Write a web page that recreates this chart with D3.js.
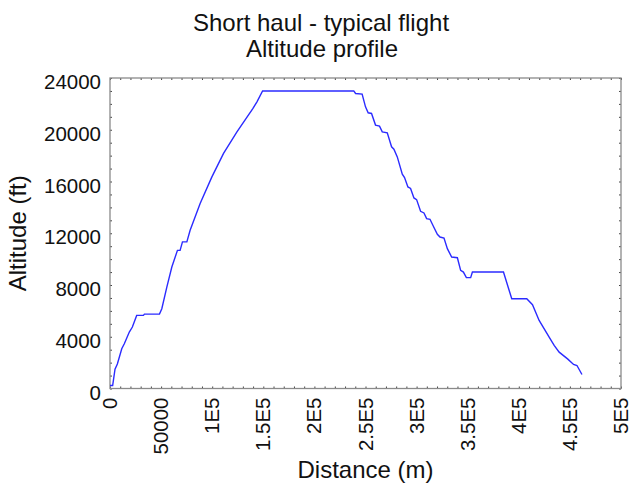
<body style="margin:0">
<svg></svg>
<script src="https://d3js.org/d3.v7.min.js"></script>
<script>

// distance along route (m) and altitude (ft)
var distance = [0, 2600, 4900, 7200, 11500, 14000, 18900, 21900, 26100, 32700, 33700, 48400, 50700,
  55600, 60500, 66000, 68600, 70900, 75200, 78400, 88200, 99700, 111100, 124200, 139900, 143800,
  149300, 238500, 240300, 246700, 250000, 252600, 255900, 259800, 263700, 266400, 271300, 275500,
  277800, 281100, 286000, 288200, 291500, 294100, 297400, 300000, 303900, 307200, 309800, 313100,
  316400, 320300, 322900, 326800, 330100, 334300, 339900, 343100, 345800, 348700, 352900, 354600,
  385000, 393100, 407800, 413400, 419900, 429700, 434600, 439500, 447700, 453600, 456900, 461800];
var altitude = [230, 230, 1500, 1900, 3070, 3460, 4360, 4750, 5650, 5650, 5750, 5750, 6170,
  7840, 9390, 10680, 10680, 11330, 11330, 12230, 14300, 16360, 18170, 19840, 21650, 22160,
  23000, 23000, 22800, 22760, 21770, 21310, 21260, 20360, 20280, 19840, 19760, 18680,
  18500, 17900, 16560, 16300, 15580, 15460, 14730, 14600, 13700, 13570, 13130, 13080,
  12540, 11920, 11710, 11630, 10810, 10160, 10110, 9130, 9000, 8570, 8570, 9000,
  9000, 6940, 6940, 6480, 5260, 3970, 3330, 2810, 2290, 1860, 1780, 1080];

var xTicks = [0, 50000, 100000, 150000, 200000, 250000, 300000, 350000, 400000, 450000, 500000];
var xTickLabels = ["0", "50000", "1E5", "1.5E5", "2E5", "2.5E5", "3E5", "3.5E5", "4E5", "4.5E5", "5E5"];
var yTicks = [0, 4000, 8000, 12000, 16000, 20000, 24000];

var width = 629, height = 490;
var plotLeft = 110, plotRight = 621, plotTop = 78, plotBottom = 388.5;
var font = "'Liberation Sans', Arial, sans-serif";

const svg = d3.select("svg")
    .attr("width", width)
    .attr("height", height)
    .style("font-family", font);

svg.append("rect").attr("width", width).attr("height", height).attr("fill", "white");

var x = d3.scaleLinear().domain([0, 500000]).range([plotLeft, plotRight]);
var y = d3.scaleLinear().domain([0, 24000]).range([plotBottom, plotTop]);

// minor ticks, inward, on all four sides
var xMinor = d3.range(0, 500001, 10000);
var yMinor = d3.range(0, 24001, 1000);
var axisColor = "#8a8a8a";

function ticksOnly(g) {
  g.select(".domain").remove();
  g.selectAll("line").attr("stroke", "#444");
}

svg.append("g").attr("transform", `translate(0,${plotBottom})`)
    .call(d3.axisTop(x).tickValues(xMinor).tickSize(2).tickFormat(""))
    .call(ticksOnly);
svg.append("g").attr("transform", `translate(0,${plotTop})`)
    .call(d3.axisBottom(x).tickValues(xMinor).tickSize(2).tickFormat(""))
    .call(ticksOnly);
svg.append("g").attr("transform", `translate(${plotLeft},0)`)
    .call(d3.axisRight(y).tickValues(yMinor).tickSize(2).tickFormat(""))
    .call(ticksOnly);
svg.append("g").attr("transform", `translate(${plotRight},0)`)
    .call(d3.axisLeft(y).tickValues(yMinor).tickSize(2).tickFormat(""))
    .call(ticksOnly);

// frame
svg.append("rect")
    .attr("x", plotLeft).attr("y", plotTop)
    .attr("width", plotRight - plotLeft).attr("height", plotBottom - plotTop)
    .attr("fill", "none").attr("stroke", axisColor).attr("stroke-width", 1.3);

// tick labels
svg.append("g").selectAll("text")
    .data(xTicks)
    .join("text")
    .attr("transform", (d) => `translate(${x(d) + 7},${plotBottom + 9}) rotate(-90)`)
    .attr("text-anchor", "end")
    .attr("font-size", 20.5)
    .attr("fill", "#111")
    .text((d, i) => xTickLabels[i]);

svg.append("g").selectAll("text")
    .data(yTicks)
    .join("text")
    .attr("x", plotLeft - 9)
    .attr("y", (d) => y(d) + 11)
    .attr("text-anchor", "end")
    .attr("font-size", 20.5)
    .attr("fill", "#111")
    .text((d) => d);

// line
var line = d3.line().x((d, i) => x(distance[i])).y((d, i) => y(altitude[i]));
svg.append("path")
    .datum(altitude)
    .attr("d", line)
    .attr("fill", "none")
    .attr("stroke", "#2b2bff")
    .attr("stroke-width", 1.4);

// titles
svg.append("text").attr("x", 321).attr("y", 31).attr("text-anchor", "middle")
    .attr("font-size", 24).attr("fill", "#111").text("Short haul - typical flight");
svg.append("text").attr("x", 322).attr("y", 57).attr("text-anchor", "middle")
    .attr("font-size", 24).attr("fill", "#111").text("Altitude profile");
svg.append("text").attr("x", (plotLeft + plotRight) / 2).attr("y", 478).attr("text-anchor", "middle")
    .attr("font-size", 24).attr("fill", "#111").text("Distance (m)");
svg.append("text")
    .attr("transform", `translate(26,${(plotTop + plotBottom) / 2}) rotate(-90)`)
    .attr("text-anchor", "middle")
    .attr("font-size", 24).attr("fill", "#111").text("Altitude (ft)");

</script>
</body>
